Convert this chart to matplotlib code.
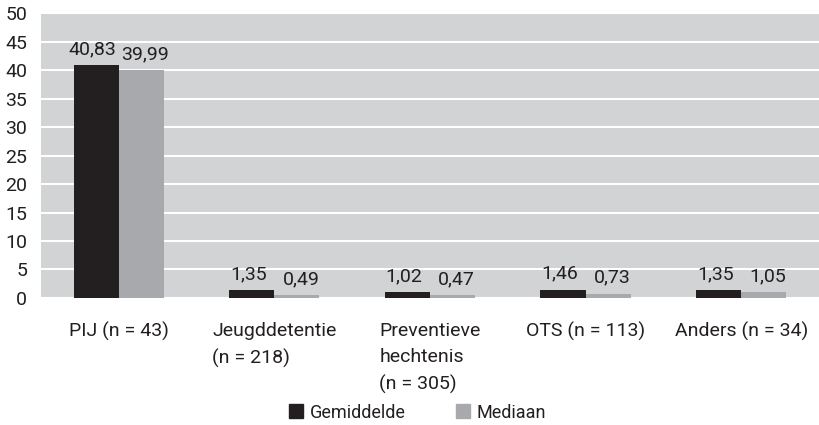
import matplotlib.pyplot as plt
import numpy as np

# data
categories = ['PIJ (n = 43)', 'Jeugddetentie\n(n = 218)', 'Preventieve\nhechtenis\n(n = 305)',
              'OTS (n = 113)', 'Anders (n = 34)']
gemiddelde = [40.83, 1.35, 1.02, 1.46, 1.35]
mediaan = [39.99, 0.49, 0.47, 0.73, 1.05]

dark = '#231f20'
grey = '#a7a9ac'
bg = '#d1d3d4'

plt.rcParams['font.family'] = ['Roboto', 'DejaVu Sans']
fs = 14

fig = plt.figure(figsize=(8.19, 4.25), dpi=100)
ax = fig.add_axes([0.05, 0.299, 0.95, 0.67])
ax.set_facecolor(bg)

x = np.arange(len(categories))
w = 0.29
b1 = ax.bar(x - w/2, gemiddelde, w, color=dark, label='Gemiddelde', zorder=3)
b2 = ax.bar(x + w/2, mediaan, w, color=grey, label='Mediaan', zorder=3)

def fmt(v):
    return ('%.2f' % v).replace('.', ',')

# value labels, nudged apart a little
for bars, vals, dx in [(b1, gemiddelde, -2.5), (b2, mediaan, 3)]:
    for r, v in zip(bars, vals):
        ax.annotate(fmt(v), (r.get_x() + r.get_width()/2, v), xytext=(dx, 5),
                    textcoords='offset points', ha='center', va='bottom',
                    fontsize=fs, color=dark)

ax.set_xlim(-0.5, len(categories) - 0.5)
ax.set_ylim(0, 50)
ax.set_yticks(np.arange(0, 51, 5))
ax.yaxis.grid(True, color='white', linewidth=1.5, zorder=0)
ax.set_axisbelow(True)
for s in ax.spines.values():
    s.set_visible(False)
ax.tick_params(axis='both', length=0, labelsize=fs, colors=dark)
ax.tick_params(axis='y', pad=10)
ax.tick_params(axis='x', pad=17)
ax.set_xticks(x)
ax.set_xticklabels(categories, multialignment='left', va='top', linespacing=1.6)

h1 = plt.Line2D([], [], marker='s', color=dark, linestyle='', markersize=10)
h2 = plt.Line2D([], [], marker='s', color=grey, linestyle='', markersize=10)
fig.legend([h1, h2], ['Gemiddelde', 'Mediaan'], loc='lower center', ncol=2,
           bbox_to_anchor=(0.51, -0.03), frameon=False, fontsize=13,
           handletextpad=0.35, handlelength=0.8, columnspacing=2.8, labelcolor=dark)

fig.savefig('out.png', dpi=100)
